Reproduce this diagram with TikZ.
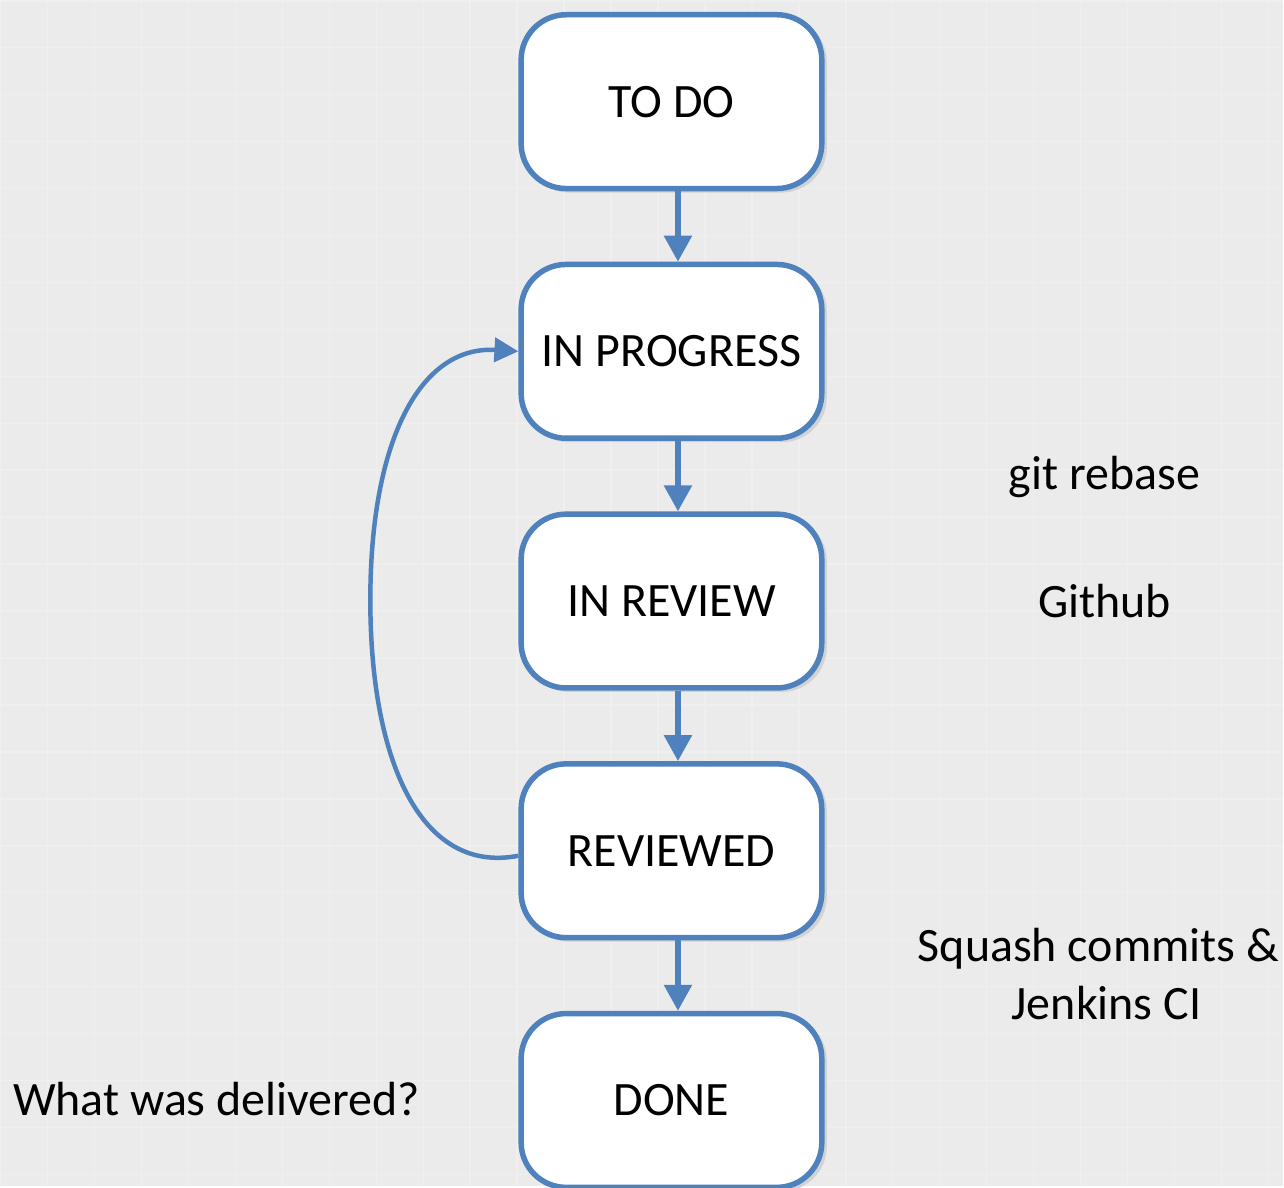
\documentclass[tikz,border=0pt]{standalone}
\usepackage{fontspec}
\setmainfont{Carlito}
\usetikzlibrary{arrows.meta}
\definecolor{bgc}{RGB}{235,235,235}
\definecolor{gridc}{RGB}{239,239,239}
\definecolor{edgeblue}{RGB}{79,129,189}
\definecolor{shadowc}{RGB}{210,210,210}
\tikzset{
  statebox/.style={draw=edgeblue, line width=5.5pt, fill=white, rounded corners=45pt,
    minimum width=301pt, minimum height=174pt, inner sep=0pt,
    font=\fontsize{48}{58}\selectfont, text=black},
  boxshadow/.style={fill=shadowc, rounded corners=45pt, draw=none},
  flow/.style={draw=edgeblue, line width=5.5pt, -{Triangle[length=26pt,width=27pt]}},
  loop/.style={draw=edgeblue, line width=4.5pt, -{Triangle[length=24pt,width=24pt]}},
  note/.style={font=\fontsize{48}{58}\selectfont, text=black, align=center, inner sep=0pt}
}
\begin{document}
\begin{tikzpicture}[x=1pt,y=-1pt]
\fill[bgc] (0,0) rectangle (1284,1187);
\draw[gridc, line width=1.5pt] (0,0) grid[step=47pt] (1284,1187);
\useasboundingbox (0,0) rectangle (1284,1187);
% shadows
\foreach \yc in {100,350,600,850,1100}{
  \fill[boxshadow] (524,\yc-84) rectangle (827,\yc+92);
}
\node[statebox] (todo) at (671.5,101) {TO DO};
\node[statebox] (prog) at (671.5,351) {IN PROGRESS};
\node[statebox] (rev) at (671.5,601) {IN REVIEW};
\node[statebox] (revd) at (671.5,851) {REVIEWED};
\node[statebox] (done) at (671.5,1101) {DONE};
\draw[flow] (todo.south -| 678,0) -- (prog.north -| 678,0);
\draw[flow] (prog.south -| 678,0) -- (rev.north -| 678,0);
\draw[flow] (rev.south -| 678,0) -- (revd.north -| 678,0);
\draw[flow] (revd.south -| 678,0) -- (done.north -| 678,0);
\draw[loop] ([yshift=-5pt]revd.west) .. controls (420,875) and (370,760) .. (370,600)
   .. controls (370,440) and (420,345) .. (prog.west);
\node[note] (git) at (1105,477) {git rebase};
\node[note] (gh) at (1105,601) {Github};
\node[note, anchor=north] (squash) at (1099,928) {Squash commits \&\\\hspace*{16pt}Jenkins CI};
\node[note] (what) at (216,1100) {What was delivered?};
\end{tikzpicture}
\end{document}
